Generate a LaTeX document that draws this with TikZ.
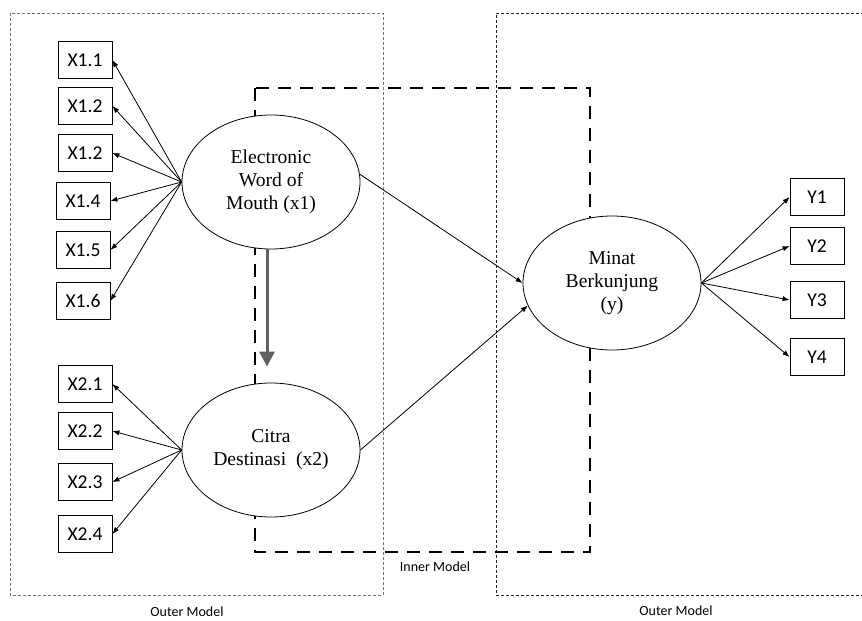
\documentclass[tikz,border=0pt]{standalone}
\usepackage{fontspec}
\setmainfont{Liberation Serif}
\newfontfamily\boxfont{Carlito}
\usetikzlibrary{arrows.meta, positioning, shapes.geometric}

\begin{document}
\begin{tikzpicture}[
  x=0.5pt, y=-0.5pt,
  >={Latex[length=3.5pt, width=2.6pt]},
  indnode/.style  = {draw, fill=white, minimum width=27pt,
                     minimum height=18.5pt, inner sep=1pt,
                     font=\boxfont\fontsize{9.8}{11}\selectfont},
  latnode/.style  = {draw, ellipse, fill=white, minimum width=89pt,
                     minimum height=67pt, inner sep=0pt, align=center,
                     font=\fontsize{9.8}{11.5}\selectfont},
  arr/.style      = {->, thin},
  grayarr/.style  = {-{Triangle[length=7.5pt, width=7.5pt]},
                     line width=1.5pt, draw=black!62, fill=black!62},
  outerbox/.style = {dash pattern=on 1.5pt off 1pt, line width=0.4pt},
  innerbox/.style = {dash pattern=on 6.5pt off 4.5pt, line width=1.3pt},
  lbl/.style      = {font=\boxfont\fontsize{7}{8}\selectfont},
]
\useasboundingbox (0,0) rectangle (862,621);

% =============================================
% MODEL FRAMES
% =============================================
\draw[outerbox, draw=black!55] (10,13) rectangle (383,595);
\draw[outerbox, draw=black!85] (864,13) -- (496,13) -- (496,595) -- (864,595);
\draw[innerbox] (255,88) rectangle (590,552);

% =============================================
% LATENT VARIABLES
% =============================================
\node[latnode] (ewom)  at (271,182) {Electronic\\Word of\\Mouth (x1)};
\node[latnode] (citra) at (271,450) {Citra\\Destinasi~ (x2)};
\node[latnode] (minat) at (612,283) {Minat\\Berkunjung\\(y)};

% =============================================
% INDICATORS
% =============================================
\node[indnode] (x11) at (85,60)  {X1.1};
\node[indnode] (x12) at (85,106) {X1.2};
\node[indnode] (x13) at (85,153) {X1.2};
\node[indnode] (x14) at (83,201) {X1.4};
\node[indnode] (x15) at (83,250) {X1.5};
\node[indnode] (x16) at (83,301) {X1.6};

\node[indnode] (x21) at (85,384) {X2.1};
\node[indnode] (x22) at (85,431) {X2.2};
\node[indnode] (x23) at (85,482) {X2.3};
\node[indnode] (x24) at (85,534) {X2.4};

\node[indnode] (y1) at (817,197) {Y1};
\node[indnode] (y2) at (817,246) {Y2};
\node[indnode] (y3) at (817,300) {Y3};
\node[indnode] (y4) at (817,357) {Y4};

% =============================================
% LABELS
% =============================================
\node[lbl] (outerl) at (187,612) {Outer Model};
\node[lbl] (outerr) at (676,611) {Outer Model};
\node[lbl] (innerl) at (435,567) {Inner Model};

% =============================================
% OUTER ARROWS
% =============================================
\draw[arr] (ewom.west) -- (x11.east);
\draw[arr] (ewom.west) -- (x12.east);
\draw[arr] (ewom.west) -- (x13.east);
\draw[arr] (ewom.west) -- (x14.east);
\draw[arr] (ewom.west) -- (x15.east);
\draw[arr] (ewom.west) -- (x16.east);

\draw[arr] (citra.west) -- (x21.east);
\draw[arr] (citra.west) -- (x22.east);
\draw[arr] (citra.west) -- (x23.east);
\draw[arr] (citra.west) -- (x24.east);

\draw[arr] (minat.east) -- (y1.west);
\draw[arr] (minat.east) -- (y2.west);
\draw[arr] (minat.east) -- (y3.west);
\draw[arr] (minat.east) -- (y4.west);

% =============================================
% INNER ARROWS
% =============================================
\draw[arr] (ewom.5) -- (minat.west);
\draw[arr] (citra.east) -- (minat.195);
\draw[grayarr] ([xshift=-2pt]ewom.south) -- ([xshift=-2pt, yshift=8pt]citra.north);

\end{tikzpicture}
\end{document}
